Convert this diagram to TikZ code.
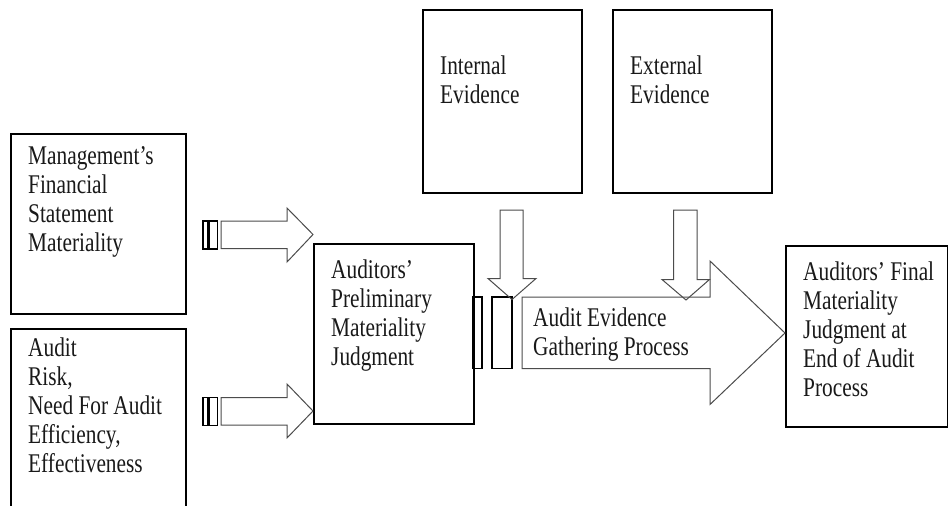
\documentclass[tikz,border=0pt]{standalone}
\usepackage{fontspec}
\setmainfont[FakeStretch=0.79]{Liberation Serif}
\begin{document}
\begin{tikzpicture}[x=1pt,y=-1pt,
  box/.style={draw=black, line width=1.8pt, rectangle, inner sep=0pt, anchor=north west},
  lbl/.style={anchor=north west, inner sep=0pt, align=left,
              font=\fontsize{27}{29}\selectfont, text=black!90},
  blockarrow/.style={draw=black!70, line width=1pt, line join=miter},
  stripe/.style={draw=black, line width=1.4pt}]
\clip (0,0) rectangle (948,506);
\fill[white] (0,0) rectangle (948,506);

% ---- boxes ----
\node[box, minimum width=175pt, minimum height=180pt] (mgmt)     at (10,133)  {};
\node[box, minimum width=175pt, minimum height=200pt] (risk)     at (10,328)  {};
\node[box, minimum width=160pt, minimum height=180pt] (prelim)   at (313,243) {};
\node[box, minimum width=159pt, minimum height=183pt] (internal) at (422,9)   {};
\node[box, minimum width=159pt, minimum height=183pt] (external) at (612,9)   {};
\node[box, minimum width=162pt, minimum height=181pt] (final)    at (785,245) {};

% ---- box texts ----
\node[lbl] (mgmtT)     at (28,146.5){Management’s\\Financial\\Statement\\Materiality};
\node[lbl] (riskT)     at (28,338)  {Audit\\Risk,\\Need For Audit\\Efficiency,\\Effectiveness};
\node[lbl] (prelimT)   at (331,259.5){Auditors’\\Preliminary\\Materiality\\Judgment};
\node[lbl] (internalT) at (440,55.5){Internal\\Evidence};
\node[lbl] (externalT) at (630,55.5){External\\Evidence};
\node[lbl] (finalT)    at (803,262){Auditors’ Final\\Materiality\\Judgment at\\End of Audit\\Process};

% ---- striped arrow: management materiality -> preliminary judgment ----
\draw[stripe] (203,221) rectangle (208,249);
\draw[stripe] (209.5,221) rectangle (217.5,249);
\draw[blockarrow] (221,221) -- (287,221) -- (287,208) -- (313,234.5)
  -- (287,262) -- (287,248.5) -- (221,248.5) -- cycle;

% ---- striped arrow: audit risk -> preliminary judgment ----
\draw[stripe] (203,397.5) rectangle (208,425.5);
\draw[stripe] (209.5,397.5) rectangle (217.5,425.5);
\draw[blockarrow] (221,397.5) -- (287,397.5) -- (287,384) -- (313,411)
  -- (287,438) -- (287,425) -- (221,425) -- cycle;

% ---- big striped arrow: evidence gathering process ----
\draw[stripe] (473,297) rectangle (482,368.5);
\draw[stripe] (492,297) rectangle (512,368.5);
\draw[blockarrow] (522,297) -- (710,297) -- (710,261) -- (785,333)
  -- (710,404.5) -- (710,368.5) -- (522,368.5) -- cycle;
\node[lbl] (gatherT) at (533,307.5) {Audit Evidence\\Gathering Process};

% ---- down arrows from the evidence boxes ----
\draw[blockarrow] (500,210) -- (523,210) -- (523,278.5) -- (536,278.5)
  -- (512,299.5) -- (488,278.5) -- (500,278.5) -- cycle;
\draw[blockarrow] (673.5,210) -- (697,210) -- (697,279.5) -- (709.5,279.5)
  -- (686,300) -- (662,279.5) -- (673.5,279.5) -- cycle;
\end{tikzpicture}
\end{document}
